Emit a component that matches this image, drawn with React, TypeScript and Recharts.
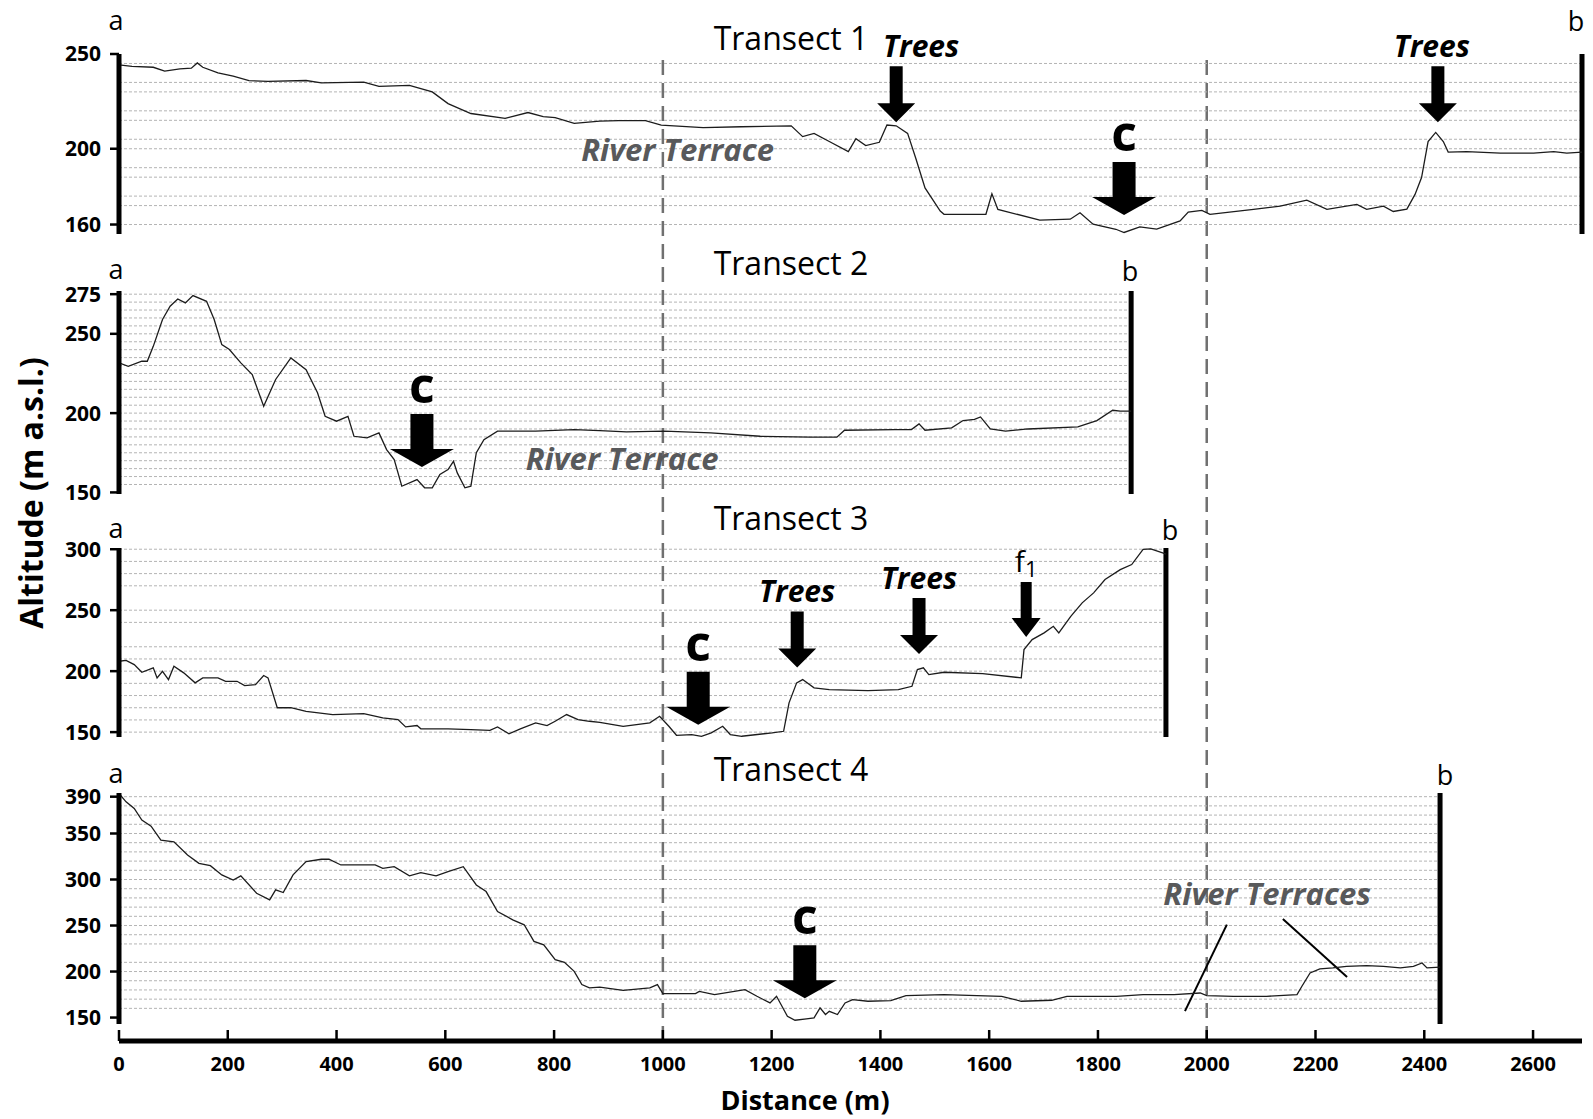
import React from "react";
import { LineChart, Line, XAxis, YAxis, ReferenceLine, ReferenceDot } from "recharts";

const FONT = '"Open Sans", "DejaVu Sans", sans-serif';

// shared distance axis (m)
const X_MAX = 2690;
const X_TICKS = [0, 200, 400, 600, 800, 1000, 1200, 1400, 1600, 1800, 2000, 2200, 2400, 2600];
const DIVIDERS = [1000, 2000];

// Transect 1
const T1_DIST = [0, 24, 63, 84, 112, 133, 144, 154, 182, 210, 239, 274, 344, 372, 450, 478, 534, 576, 605, 647, 710, 752, 780, 802, 837, 884, 919, 968, 997, 1074, 1144, 1236, 1257, 1278, 1306, 1341, 1355, 1373, 1398, 1412, 1429, 1450, 1465, 1482, 1510, 1517, 1594, 1605, 1616, 1693, 1749, 1767, 1791, 1833, 1848, 1877, 1908, 1951, 1966, 1991, 2006, 2086, 2135, 2184, 2221, 2276, 2294, 2325, 2343, 2368, 2383, 2395, 2407, 2421, 2435, 2444, 2478, 2540, 2601, 2638, 2662, 2690];
const T1_ALT = [244.3, 243.5, 243, 241, 242.2, 242.5, 245.3, 243, 240, 238.3, 236, 235.5, 236, 234.8, 235.2, 232.9, 233.4, 230, 223.8, 218.6, 216, 219.1, 216.9, 216.4, 213.4, 214.6, 214.8, 214.8, 212.5, 211.1, 211.6, 212.1, 206.4, 208.1, 203.8, 198.5, 205.3, 201.7, 203.4, 212.5, 212.1, 208.1, 195, 179.3, 167.1, 165.4, 165.4, 176.2, 168, 162.3, 162.8, 166.2, 160.2, 157.5, 155.8, 158.8, 157.6, 161.9, 166.6, 167.5, 165.4, 168, 169.7, 172.9, 168, 170.6, 168, 169.7, 166.9, 168.1, 175.9, 184.8, 203.8, 208.6, 203.8, 198.2, 198.5, 197.7, 197.7, 198.5, 197.7, 198.2];
const T1_TICKS = [160, 200, 250];
const T1_GRID = [245, 235, 230, 220, 215, 205, 200, 190, 185, 175, 170, 160];

// Transect 2
const T2_DIST = [0, 17, 42, 52, 63, 80, 94, 108, 122, 136, 161, 175, 189, 203, 224, 245, 266, 288, 316, 344, 365, 379, 400, 421, 432, 456, 478, 492, 506, 520, 548, 562, 576, 590, 605, 615, 622, 636, 647, 657, 671, 696, 766, 837, 884, 933, 1003, 1088, 1179, 1271, 1320, 1334, 1426, 1457, 1471, 1482, 1531, 1552, 1573, 1584, 1602, 1630, 1671, 1763, 1798, 1827, 1841, 1861];
const T2_ALT = [231.7, 229.5, 232.7, 232.7, 242.1, 259, 267.4, 272, 269.5, 274.1, 270.5, 259, 243.2, 240.1, 231.7, 224.3, 204.3, 221.2, 234.8, 227.4, 212.8, 198, 194.9, 198, 185.4, 184.4, 187.5, 177, 170.7, 153.9, 158.1, 152.9, 152.9, 161.3, 164.4, 169.6, 162.3, 152.9, 153.9, 175, 183.3, 188.6, 188.6, 189.6, 189, 188.2, 188.6, 187.5, 185.4, 184.8, 184.8, 189.2, 189.6, 189.6, 193.2, 189.2, 190.7, 195.3, 196, 197.6, 190, 188.6, 190, 191.3, 195.3, 201.8, 201.2, 201.2];
const T2_TICKS = [150, 200, 250, 275];
const T2_GRID = [275, 270, 265, 260, 255, 250, 245, 240, 235, 230, 225, 220, 215, 210, 205, 200, 195, 190, 185, 180, 175, 170, 165, 160, 155];

// Transect 3
const T3_DIST = [0, 13, 28, 42, 63, 70, 80, 91, 101, 119, 140, 154, 182, 196, 217, 231, 251, 266, 274, 291, 316, 344, 393, 450, 485, 513, 527, 548, 555, 605, 647, 682, 696, 717, 738, 766, 787, 802, 823, 844, 865, 884, 927, 976, 994, 1011, 1025, 1053, 1071, 1089, 1110, 1124, 1145, 1201, 1222, 1232, 1246, 1257, 1278, 1306, 1377, 1433, 1458, 1468, 1479, 1489, 1517, 1588, 1659, 1664, 1679, 1701, 1718, 1728, 1750, 1771, 1792, 1813, 1841, 1862, 1883, 1897, 1919, 1925];
const T3_ALT = [208.1, 208.9, 205.4, 199.1, 202.7, 194.5, 199.9, 193.1, 204, 198.6, 190.4, 194.5, 194.5, 191.7, 191.7, 188.2, 189, 196.4, 194.5, 170, 170, 167.1, 164.4, 165.2, 161.7, 160.3, 154.3, 155.4, 152.7, 152.7, 152.1, 151.5, 154.3, 148.6, 152.7, 157.6, 155.4, 158.9, 164.4, 160.3, 158.9, 158, 154.8, 157.6, 163, 154.8, 147.4, 148, 146.6, 149.4, 154.8, 148, 146.6, 149.4, 150.7, 174, 190.4, 193.1, 186.3, 184.9, 184.1, 184.9, 187.6, 201.3, 202.7, 197.2, 199.1, 198, 194.5, 217.7, 225.9, 231.4, 236.8, 231.4, 245, 256, 264.2, 275.1, 283.3, 287.4, 299.8, 300.3, 297, 296];
const T3_TICKS = [150, 200, 250, 300];
const T3_GRID = [300, 290, 280, 270, 250, 240, 220, 210, 200, 190, 180, 170, 160, 150];

// Transect 4
const T4_DIST = [0, 13, 28, 42, 59, 77, 101, 126, 147, 168, 189, 210, 224, 253, 277, 288, 302, 320, 344, 372, 386, 408, 471, 485, 506, 534, 555, 583, 605, 633, 657, 675, 696, 724, 745, 763, 781, 802, 819, 837, 851, 865, 884, 927, 976, 990, 1000, 1060, 1067, 1095, 1151, 1173, 1197, 1209, 1229, 1243, 1264, 1278, 1289, 1299, 1306, 1321, 1335, 1349, 1377, 1419, 1447, 1517, 1623, 1659, 1715, 1743, 1834, 1883, 1940, 1988, 2000, 2049, 2110, 2166, 2175, 2190, 2208, 2232, 2257, 2294, 2325, 2356, 2380, 2396, 2405, 2429];
const T4_ALT = [393.5, 384.4, 377.2, 364.5, 358, 342.9, 341, 326.6, 317.6, 315, 305, 299.5, 303.9, 285.1, 277.9, 288.7, 285.8, 305, 319.4, 322, 322, 315.8, 315.8, 312.2, 313.9, 303.9, 307.4, 303.9, 308.5, 313.9, 294.1, 286.9, 265.2, 256.2, 250.8, 232.7, 229.1, 212.9, 210, 200.2, 185.8, 182.2, 183, 179.6, 182.2, 185.8, 176, 176, 178.5, 174.9, 180.3, 173.1, 165.9, 173.1, 151.4, 147.1, 148.6, 149.7, 160.5, 153.3, 156.8, 153.3, 165.9, 169.5, 167.7, 168.5, 173.9, 174.9, 173.1, 167.7, 168.8, 173.1, 173.1, 174.9, 174.9, 176.7, 173.9, 173.1, 173.1, 174.9, 184, 198.5, 202.8, 203.9, 205.6, 206.4, 205.6, 203.9, 205.6, 209.3, 203.9, 204.7];
const T4_TICKS = [150, 200, 250, 300, 350, 390];
const T4_GRID = [390, 380, 370, 360, 350, 340, 330, 320, 310, 300, 290, 280, 270, 260, 250, 240, 230, 210, 200, 190, 180, 170, 160];

// annotations (distance, altitude at arrow tip)
const T1_NOTES = [
  { x: 1429, y: 214, label: "Trees", kind: "trees", dx: 25 },
  { x: 2425, y: 214, label: "Trees", kind: "trees", dx: -6 },
  { x: 1848, y: 165, label: "c", kind: "c" },
];
const T2_NOTES = [{ x: 557, y: 166, label: "c", kind: "c" }];
const T3_NOTES = [
  { x: 1065, y: 156, label: "c", kind: "c" },
  { x: 1247, y: 203, label: "Trees", kind: "trees" },
  { x: 1471, y: 214, label: "Trees", kind: "trees" },
  { x: 1668, y: 228, label: "f", sub: "1", kind: "f" },
];
const T4_NOTES = [{ x: 1261, y: 171, label: "c", kind: "c" }];

const T1_TERRACE = [{ x: 1027, y: 199.7, label: "River Terrace" }];
const T2_TERRACE = [{ x: 925, y: 171.6, label: "River Terrace" }];
const T4_TERRACE = [{ x: 2111, y: 285.3, label: "River Terraces" }];
const T4_LEADERS = [
  [{ x: 2037, y: 251 }, { x: 1960, y: 157 }],
  [{ x: 2140, y: 257 }, { x: 2258, y: 194 }],
];

const rows = (dist: number[], alt: number[]) => dist.map((x, i) => ({ x, alt: alt[i] }));

const PANELS = [
  { top: 0, height: 250, mTop: 54, mBottom: 16, domain: [155, 250], ticks: T1_TICKS, grid: T1_GRID, data: rows(T1_DIST, T1_ALT), end: T1_DIST[T1_DIST.length - 1], notes: T1_NOTES, terraces: T1_TERRACE, leaders: [] },
  { top: 250, height: 260, mTop: 41, mBottom: 16, domain: [149, 277], ticks: T2_TICKS, grid: T2_GRID, data: rows(T2_DIST, T2_ALT), end: T2_DIST[T2_DIST.length - 1], notes: T2_NOTES, terraces: T2_TERRACE, leaders: [] },
  { top: 510, height: 240, mTop: 38, mBottom: 13, domain: [146, 301], ticks: T3_TICKS, grid: T3_GRID, data: rows(T3_DIST, T3_ALT), end: T3_DIST[T3_DIST.length - 1], notes: T3_NOTES, terraces: [], leaders: [] },
  { top: 750, height: 290, mTop: 43, mBottom: 16, domain: [143, 394], ticks: T4_TICKS, grid: T4_GRID, data: rows(T4_DIST, T4_ALT), end: T4_DIST[T4_DIST.length - 1], notes: T4_NOTES, terraces: T4_TERRACE, leaders: T4_LEADERS },
];

const ARROWS: Record<string, any> = {
  c: { shaft: 23, head: 64, shaftLen: 35, headLen: 18, font: 50, gap: 11, weight: 700, italic: false },
  trees: { shaft: 13, head: 38, shaftLen: 37, headLen: 19, font: 30, gap: 9, weight: 700, italic: true },
  f: { shaft: 11, head: 29, shaftLen: 36, headLen: 19, font: 30, gap: 10, weight: 400, italic: false },
};

function arrowShape(note: any) {
  return (props: any) => {
    const { cx, cy } = props;
    if (cx == null || cy == null) return <g />;
    const s = ARROWS[note.kind];
    const top = cy - s.shaftLen - s.headLen;
    const hb = cy - s.headLen;
    const pts = [
      [cx - s.shaft / 2, top],
      [cx + s.shaft / 2, top],
      [cx + s.shaft / 2, hb],
      [cx + s.head / 2, hb],
      [cx, cy],
      [cx - s.head / 2, hb],
      [cx - s.shaft / 2, hb],
    ]
      .map((p) => p.join(","))
      .join(" ");
    return (
      <g>
        <polygon points={pts} fill="#000" />
        <text
          x={cx + (note.dx || 0)}
          y={top - s.gap}
          textAnchor="middle"
          fontFamily={FONT}
          fontSize={s.font}
          fontWeight={s.weight}
          fontStyle={s.italic ? "italic" : "normal"}
          fill="#000"
        >
          {note.label}
          {note.sub && (
            <tspan fontSize={22} dy={5}>
              {note.sub}
            </tspan>
          )}
        </text>
      </g>
    );
  };
}

function terraceShape(label: string) {
  return (props: any) => {
    const { cx, cy } = props;
    if (cx == null || cy == null) return <g />;
    return (
      <text x={cx} y={cy} textAnchor="middle" dominantBaseline="central" fontFamily={FONT} fontSize={31} fontWeight={700} fontStyle="italic" fill="#58595b">
        {label}
      </text>
    );
  };
}

const XTick = (props: any) => {
  const { x, y, payload } = props;
  return (
    <g>
      <line x1={x} x2={x} y1={y - 11} y2={y} stroke="#000" strokeWidth={2.5} />
      <text x={x} y={y + 30} textAnchor="middle" fontFamily={FONT} fontSize={20} fontWeight={700} fill="#000">
        {payload.value}
      </text>
    </g>
  );
};

function Panel({ p }: { p: any }) {
  return (
    <div style={{ position: "absolute", top: p.top, left: 0 }}>
      <LineChart width={1593} height={p.height} data={p.data} margin={{ top: p.mTop, right: 11, bottom: p.mBottom, left: 0 }}>
        <XAxis type="number" dataKey="x" domain={[0, X_MAX]} hide allowDataOverflow />
        <YAxis
          type="number"
          domain={p.domain}
          ticks={p.ticks}
          interval={0}
          allowDataOverflow
          width={119}
          axisLine={{ stroke: "#000", strokeWidth: 5 }}
          tickLine={{ stroke: "#000", strokeWidth: 2.5 }}
          tickSize={9}
          tickMargin={9}
          tick={{ fill: "#000", fontSize: 21, fontWeight: 700, fontFamily: FONT }}
        />
        {p.grid.map((v: number) => (
          <ReferenceLine
            key={"g" + v}
            segment={[{ x: 0, y: v }, { x: p.end, y: v }]}
            stroke="#b4b4b4"
            strokeWidth={1}
            strokeDasharray="3 2"
          />
        ))}
        <ReferenceLine x={p.end} stroke="#000" strokeWidth={5} />
        {p.leaders.map((seg: any, i: number) => (
          <ReferenceLine key={"l" + i} segment={seg} stroke="#000" strokeWidth={2} />
        ))}
        <Line type="linear" dataKey="alt" stroke="#1c1c1c" strokeWidth={1.3} dot={false} isAnimationActive={false} />
        {p.terraces.map((t: any, i: number) => (
          <ReferenceDot key={"t" + i} x={t.x} y={t.y} ifOverflow="visible" shape={terraceShape(t.label)} />
        ))}
        {p.notes.map((n: any, i: number) => (
          <ReferenceDot key={"n" + i} x={n.x} y={n.y} ifOverflow="visible" shape={arrowShape(n)} />
        ))}
      </LineChart>
    </div>
  );
}

const TEXT = { fontFamily: FONT, fill: "#000" };

export default function App() {
  return (
    <div style={{ position: "absolute", top: 0, left: 0, width: 1593, height: 1119, background: "#fff", overflow: "hidden" }}>
      <div style={{ position: "absolute", top: 0, left: 0 }}>
        <LineChart width={1593} height={1119} data={[]} margin={{ top: 57, right: 11, bottom: 38, left: 119 }}>
          <XAxis
            type="number"
            dataKey="x"
            domain={[0, X_MAX]}
            ticks={X_TICKS}
            interval={0}
            allowDataOverflow
            height={40}
            axisLine={{ stroke: "#000", strokeWidth: 5 }}
            tickLine={false}
            tickSize={0}
            tickMargin={0}
            tick={<XTick />}
          />
          <YAxis hide type="number" domain={[0, 1]} allowDataOverflow />
          {DIVIDERS.map((d) => (
            <ReferenceLine
              key={d}
              segment={[{ x: d, y: 0 }, { x: d, y: 1 }]}
              stroke="#707070"
              strokeWidth={2.5}
              strokeDasharray="15 8"
            />
          ))}
        </LineChart>
      </div>
      {PANELS.map((p, i) => (
        <Panel key={i} p={p} />
      ))}
      <svg width={1593} height={1119} style={{ position: "absolute", top: 0, left: 0, pointerEvents: "none" }}>
        <g {...TEXT} fontSize={32} textAnchor="middle">
          <text x={791} y={50}>Transect 1</text>
          <text x={791} y={275}>Transect 2</text>
          <text x={791} y={530}>Transect 3</text>
          <text x={791} y={781}>Transect 4</text>
        </g>
        <g {...TEXT} fontSize={27} textAnchor="middle">
          <text x={116} y={30}>a</text>
          <text x={1576} y={31}>b</text>
          <text x={116} y={279}>a</text>
          <text x={1130} y={281}>b</text>
          <text x={116} y={538}>a</text>
          <text x={1170} y={540}>b</text>
          <text x={116} y={783}>a</text>
          <text x={1445} y={785}>b</text>
        </g>
        <text {...TEXT} x={805} y={1099} textAnchor="middle" dominantBaseline="central" fontSize={27} fontWeight={700}>
          Distance (m)
        </text>
        <text {...TEXT} transform="translate(30,493) rotate(-90)" textAnchor="middle" dominantBaseline="central" fontSize={32} fontWeight={700}>
          Altitude (m a.s.l.)
        </text>
      </svg>
    </div>
  );
}
